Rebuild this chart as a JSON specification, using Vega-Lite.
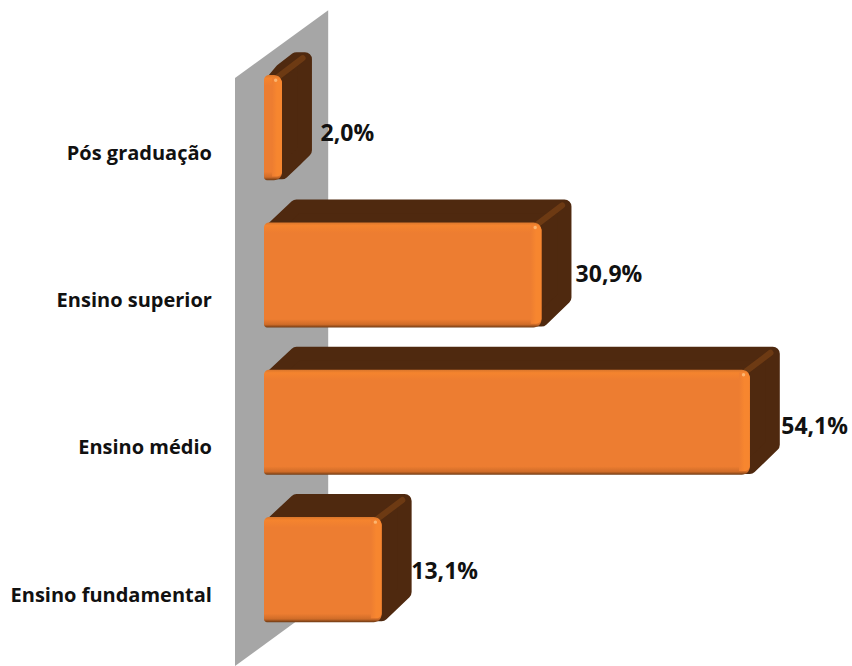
{"$schema":"https://vega.github.io/schema/vega-lite/v6.json","width":852,"height":666,"padding":0,"autosize":{"type":"none"},"background":"white","config":{"view":{"stroke":null}},
"datasets":{
"wall":[{"x":-3.23,"y":3.34,"y2":-0.652},{"x":7.15,"y":3.80,"y2":-0.19}],
"side":[
{"bar":"Pós graduação","x":0.85,"y":3.31,"y2":2.70},{"bar":"Pós graduação","x":2,"y":3.393,"y2":2.70},{"bar":"Pós graduação","x":3.62,"y":3.468,"y2":2.793},{"bar":"Pós graduação","x":4.56,"y":3.468,"y2":2.85},
{"bar":"Ensino superior","x":0.85,"y":2.31,"y2":1.70},{"bar":"Ensino superior","x":3.62,"y":2.468,"y2":1.70},{"bar":"Ensino superior","x":30.9,"y":2.468,"y2":1.70},{"bar":"Ensino superior","x":33.46,"y":2.468,"y2":1.85},
{"bar":"Ensino médio","x":0.85,"y":1.31,"y2":0.70},{"bar":"Ensino médio","x":3.62,"y":1.468,"y2":0.70},{"bar":"Ensino médio","x":54.1,"y":1.468,"y2":0.70},{"bar":"Ensino médio","x":56.66,"y":1.468,"y2":0.85},
{"bar":"Ensino fundamental","x":0.85,"y":0.31,"y2":-0.30},{"bar":"Ensino fundamental","x":3.62,"y":0.468,"y2":-0.30},{"bar":"Ensino fundamental","x":13.1,"y":0.468,"y2":-0.30},{"bar":"Ensino fundamental","x":15.66,"y":0.468,"y2":-0.15}],
"edge":[
{"bar":"Pós graduação","x":1.6,"y":3.35},{"bar":"Pós graduação","x":4.3,"y":3.475},
{"bar":"Ensino superior","x":30.5,"y":2.35},{"bar":"Ensino superior","x":33.2,"y":2.475},
{"bar":"Ensino médio","x":53.7,"y":1.35},{"bar":"Ensino médio","x":56.4,"y":1.475},
{"bar":"Ensino fundamental","x":12.7,"y":0.35},{"bar":"Ensino fundamental","x":15.4,"y":0.475}],
"bars":[
{"bar":"Pós graduação","x":0,"x2":2.0,"y":3.36,"y2":2.646,"band":0.9,"bt":3.34,"bb":2.672,"lab":-5.8,"laby":2.826,"val":"2,0%","valx":6.3,"valy":2.96,"spx":1.3,"spy":3.325},
{"bar":"Ensino superior","x":0,"x2":30.9,"y":2.36,"y2":1.646,"band":29.7,"bt":2.34,"bb":1.672,"lab":-5.8,"laby":1.826,"val":"30,9%","valx":34.7,"valy":2.005,"spx":30.2,"spy":2.325},
{"bar":"Ensino médio","x":0,"x2":54.1,"y":1.36,"y2":0.646,"band":52.9,"bt":1.34,"bb":0.672,"lab":-5.8,"laby":0.826,"val":"54,1%","valx":57.6,"valy":0.97,"spx":53.4,"spy":1.325},
{"bar":"Ensino fundamental","x":0,"x2":13.1,"y":0.36,"y2":-0.354,"band":11.9,"bt":0.34,"bb":-0.328,"lab":-5.8,"laby":-0.174,"val":"13,1%","valx":16.4,"valy":-0.013,"spx":12.4,"spy":0.325}]
},
"encoding":{
"x":{"field":"x","type":"quantitative","axis":null,"scale":{"domain":[-29.4,65.48],"nice":false,"zero":false}},
"y":{"field":"y","type":"quantitative","axis":null,"scale":{"domain":[-0.6517,3.8697],"nice":false,"zero":false}}
},
"layer":[
{"data":{"name":"wall"},"mark":{"type":"area","orient":"vertical","fill":"#a6a6a6"},"encoding":{"y2":{"field":"y2"}}},
{"data":{"name":"side"},"mark":{"type":"area","orient":"vertical","fill":"#4f290f","stroke":"#4f290f","strokeWidth":14,"strokeJoin":"round"},"encoding":{"y2":{"field":"y2"},"detail":{"field":"bar"}}},
{"data":{"name":"edge"},"mark":{"type":"line","stroke":"#7a4216","strokeWidth":6,"strokeCap":"round","opacity":0.7},"encoding":{"detail":{"field":"bar"}}},
{"data":{"name":"bars"},"mark":{"type":"rect","cornerRadiusTopLeft":5,"cornerRadiusBottomLeft":3,"cornerRadiusTopRight":8,"cornerRadiusBottomRight":8,"fill":{"gradient":"linear","x1":0,"y1":0,"x2":0,"y2":1,"stops":[{"offset":0,"color":"#d9762c"},{"offset":0.03,"color":"#f5842e"},{"offset":0.1,"color":"#ed7d31"},{"offset":0.92,"color":"#ed7d31"},{"offset":0.97,"color":"#d06c28"},{"offset":1,"color":"#6e3a14"}]}},"encoding":{"x2":{"field":"x2"},"y2":{"field":"y2"}}},
{"data":{"name":"bars"},"mark":{"type":"rect","cornerRadiusTopRight":7,"cornerRadiusBottomRight":7,"fill":{"gradient":"linear","x1":0,"y1":0,"x2":1,"y2":0,"stops":[{"offset":0,"color":"#ed7d31"},{"offset":0.5,"color":"#f7862f"},{"offset":1,"color":"#f7862f"}]}},"encoding":{"x":{"field":"band"},"x2":{"field":"x2"},"y":{"field":"bt"},"y2":{"field":"bb"}}},
{"data":{"name":"bars"},"mark":{"type":"point","filled":true,"color":"#ffc98a","size":12,"opacity":0.7},"encoding":{"x":{"field":"spx"},"y":{"field":"spy"}}},
{"data":{"name":"bars"},"mark":{"type":"text","font":"Open Sans","fontWeight":"bold","fontSize":20,"align":"right","baseline":"middle","color":"#111111"},"encoding":{"x":{"field":"lab"},"y":{"field":"laby"},"text":{"field":"bar"}}},
{"data":{"name":"bars"},"mark":{"type":"text","font":"Open Sans","fontWeight":"bold","fontSize":23,"align":"left","baseline":"middle","color":"#111111"},"encoding":{"x":{"field":"valx"},"y":{"field":"valy"},"text":{"field":"val"}}}
]}
